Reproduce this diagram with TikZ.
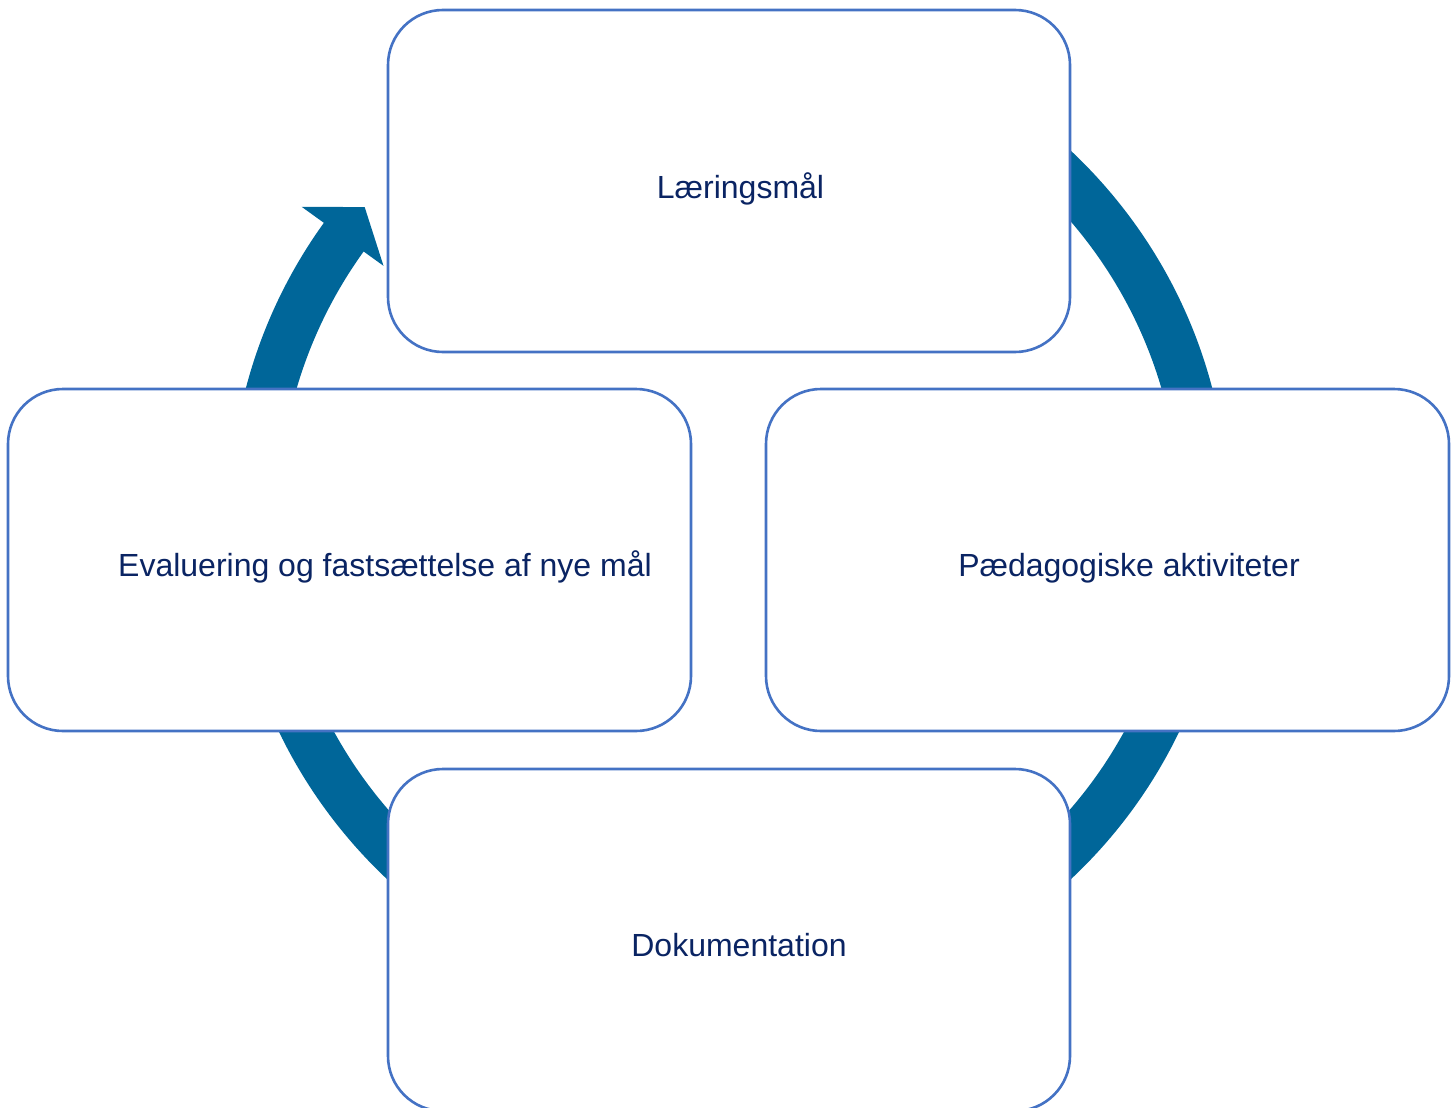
\documentclass[tikz,border=0pt]{standalone}
\usepackage{fontspec}
\setmainfont{Liberation Sans}
\usetikzlibrary{calc}
\definecolor{ringblue}{RGB}{0,102,153}
\definecolor{boxline}{RGB}{68,114,196}
\definecolor{txtnavy}{RGB}{10,36,99}
\tikzset{
  stagebox/.style={draw=boxline, line width=2.6pt, fill=white, rounded corners=55pt,
    minimum width=682pt, minimum height=342pt, inner sep=0pt},
  stagetext/.style={text=txtnavy, font=\fontsize{32}{38}\selectfont, anchor=base, inner sep=0pt},
  ringstroke/.style={draw=ringblue, line width=49pt},
  ringhead/.style={fill=ringblue}
}
\begin{document}
\begin{tikzpicture}[x=1pt,y=1pt]
\useasboundingbox (0,0) rectangle (1456,-1108);
\clip (0,0) rectangle (1456,-1108);
\coordinate (C) at (729,-515);
% circular arrow
\draw[ringstroke] ([shift={(130:475)}]C) arc[start angle=130, end angle=-216.6, radius=475];
\fill[ringhead] ([shift={(144.2:527)}]C) -- ([shift={(139.8:477)}]C) -- ([shift={(144.2:426)}]C) -- cycle;
% boxes
\node[stagebox] (top) at (729,-181) {};
\node[stagebox, minimum width=683pt] (left) at (349.5,-560) {};
\node[stagebox, minimum width=683pt] (right) at (1107.5,-560) {};
\node[stagebox] (bottom) at (729,-940) {};
% texts
\node[stagetext] (ttop) at ($(top.center)+(11.5,-17)$) {Læringsmål};
\node[stagetext] (tleft) at ($(left.center)+(35.5,-16)$) {Evaluering og fastsættelse af nye mål};
\node[stagetext] (tright) at ($(right.center)+(21.5,-16)$) {Pædagogiske aktiviteter};
\node[stagetext] (tbottom) at ($(bottom.center)+(10,-16)$) {Dokumentation};
\end{tikzpicture}
\end{document}
